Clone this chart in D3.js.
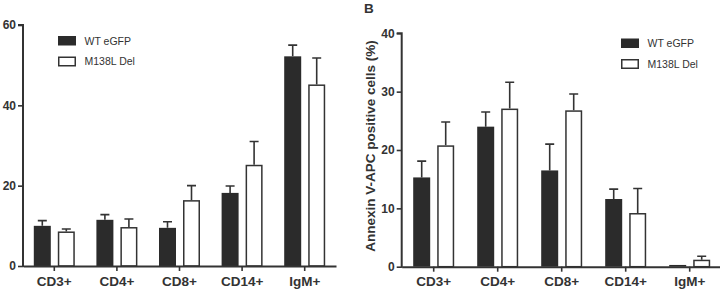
<!DOCTYPE html>
<html>
<head>
<meta charset="utf-8">
<script src="https://cdn.jsdelivr.net/npm/d3@7"></script>
<style>
  body { margin: 0; background: #fff; }
  svg text { font-family: "Liberation Sans", Arial, sans-serif; fill: #333; }
</style>
</head>
<body>
<div id="chart"></div>
<script>
const categories = ["CD3+", "CD4+", "CD8+", "CD14+", "IgM+"]
const seriesNames = ["WT eGFP", "M138L Del"]

// panel A (left, partly cropped)
const aWt = [10.0, 11.5, 9.5, 18.2, 52.2]
const aWtErr = [1.3, 1.3, 1.5, 1.7, 2.8]
const aDel = [8.6, 9.7, 16.4, 25.2, 45.2]
const aDelErr = [0.6, 2.0, 3.6, 5.8, 6.6]
const aTicks = [0, 20, 40, 60]

// panel B (Annexin V)
const bWt = [15.3, 24.0, 16.5, 11.6, 0.3]
const bWtErr = [2.8, 2.5, 4.5, 1.7, 0]
const bDel = [20.8, 27.1, 26.8, 9.2, 1.2]
const bDelErr = [4.0, 4.5, 2.8, 4.2, 0.6]
const bTicks = [0, 10, 20, 30, 40]

const W = 720, H = 291
const ink = "#333"
const darkFill = "#2b2b2b"

const svg = d3.select("#chart").append("svg")
    .attr("width", W)
    .attr("height", H)

function drawPanel(cfg) {
    const g = svg.append("g")

    const x = d3.scaleBand()
        .domain(categories)
        .range([cfg.left, cfg.right])
        .paddingInner(0)
        .paddingOuter(0)

    const y = d3.scaleLinear()
        .domain([0, cfg.max])
        .range([cfg.bottom, cfg.top])

    const barW = 17
    const gap = 7

    const rows = categories.map((c, i) => ({
        cat: c,
        vals: [
            { s: 0, v: cfg.wt[i], e: cfg.wtErr[i] },
            { s: 1, v: cfg.del[i], e: cfg.delErr[i] }
        ]
    }))

    const groups = g.selectAll(".grp")
        .data(rows)
        .enter()
        .append("g")
        .attr("transform", d => "translate(" + (x(d.cat) + x.bandwidth() / 2) + ",0)")

    const bx = s => s === 0 ? -(barW + gap / 2) : gap / 2

    // error bars (upper only)
    groups.selectAll(".err")
        .data(d => d.vals.filter(v => v.e > 0))
        .enter()
        .append("path")
        .attr("d", v => {
            const cx = bx(v.s) + barW / 2
            const y0 = y(v.v), y1 = y(v.v + v.e)
            return "M" + cx + "," + y0 + "V" + y1 + "M" + (cx - 4.5) + "," + y1 + "H" + (cx + 4.5)
        })
        .attr("stroke", ink)
        .attr("stroke-width", 1.6)
        .attr("fill", "none")

    groups.selectAll("rect")
        .data(d => d.vals)
        .enter()
        .append("rect")
        .attr("x", v => bx(v.s) + (v.s === 1 ? 0.75 : 0))
        .attr("y", v => y(v.v) + (v.s === 1 ? 0.75 : 0))
        .attr("width", v => v.s === 1 ? barW - 1.5 : barW)
        .attr("height", v => Math.max(0, cfg.bottom - y(v.v) - (v.s === 1 ? 0.75 : 0)))
        .attr("fill", v => v.s === 0 ? darkFill : "#fff")
        .attr("stroke", v => v.s === 1 ? ink : "none")
        .attr("stroke-width", 1.5)

    // y axis
    const yAxis = g.append("g")
        .attr("transform", "translate(" + cfg.left + ",0)")
        .call(d3.axisLeft(y).tickValues(cfg.ticks).tickSize(5).tickPadding(2).tickSizeOuter(0))
    yAxis.select(".domain").attr("stroke", ink).attr("stroke-width", 2)
        .attr("d", "M0," + (cfg.bottom + 1) + "V" + cfg.top + "H-5")
    yAxis.selectAll(".tick line").attr("stroke", ink).attr("stroke-width", 1.6)
    yAxis.selectAll(".tick text")
        .attr("font-size", 12)
        .attr("font-weight", "bold")
        .attr("fill", ink)

    // x axis
    const xAxis = g.append("g")
        .attr("transform", "translate(0," + cfg.bottom + ")")
        .call(d3.axisBottom(x).tickSize(5).tickPadding(5).tickSizeOuter(0))
    xAxis.select(".domain").attr("stroke", ink).attr("stroke-width", 2)
    xAxis.selectAll(".tick line").attr("stroke", ink).attr("stroke-width", 1.6)
    xAxis.selectAll(".tick text")
        .attr("font-size", 13.5)
        .attr("font-weight", "bold")
        .attr("fill", ink)

    // legend
    const leg = g.append("g")
        .attr("transform", "translate(" + cfg.legX + "," + cfg.legY + ")")
    seriesNames.forEach((name, i) => {
        leg.append("rect")
            .attr("x", i === 0 ? 0 : 0.75)
            .attr("y", i * 20.5 + (i === 0 ? 0 : 0.75))
            .attr("width", i === 0 ? 18 : 16.5)
            .attr("height", i === 0 ? 9.5 : 8.5)
            .attr("fill", i === 0 ? darkFill : "#fff")
            .attr("stroke", i === 0 ? "none" : ink)
            .attr("stroke-width", 1.5)
        leg.append("text")
            .attr("x", 26.5)
            .attr("y", i * 20.5 + 8.8)
            .attr("font-size", 10.5)
            .text(name)
    })

    if (cfg.yLabel) {
        g.append("text")
            .attr("transform", "translate(" + cfg.yLabelX + "," + cfg.yLabelY + ") rotate(-90)")
            .attr("text-anchor", "middle")
            .attr("font-size", 13.5)
            .attr("font-weight", "bold")
            .text(cfg.yLabel)
    }
    if (cfg.letter) {
        g.append("text")
            .attr("x", cfg.letterX)
            .attr("y", 12.5)
            .attr("font-size", 13.5)
            .attr("font-weight", "bold")
            .text(cfg.letter)
    }
}

drawPanel({
    left: 23, right: 336, top: 25, bottom: 266, max: 60,
    wt: aWt, wtErr: aWtErr, del: aDel, delErr: aDelErr, ticks: aTicks,
    legX: 58, legY: 36
})

drawPanel({
    left: 401.7, right: 721.7, top: 33.3, bottom: 266.7, max: 40,
    wt: bWt, wtErr: bWtErr, del: bDel, delErr: bDelErr, ticks: bTicks,
    legX: 621, legY: 38.5,
    yLabel: "Annexin V-APC positive cells (%)", yLabelX: 375, yLabelY: 146,
    letter: "B", letterX: 364
})
</script>
</body>
</html>
